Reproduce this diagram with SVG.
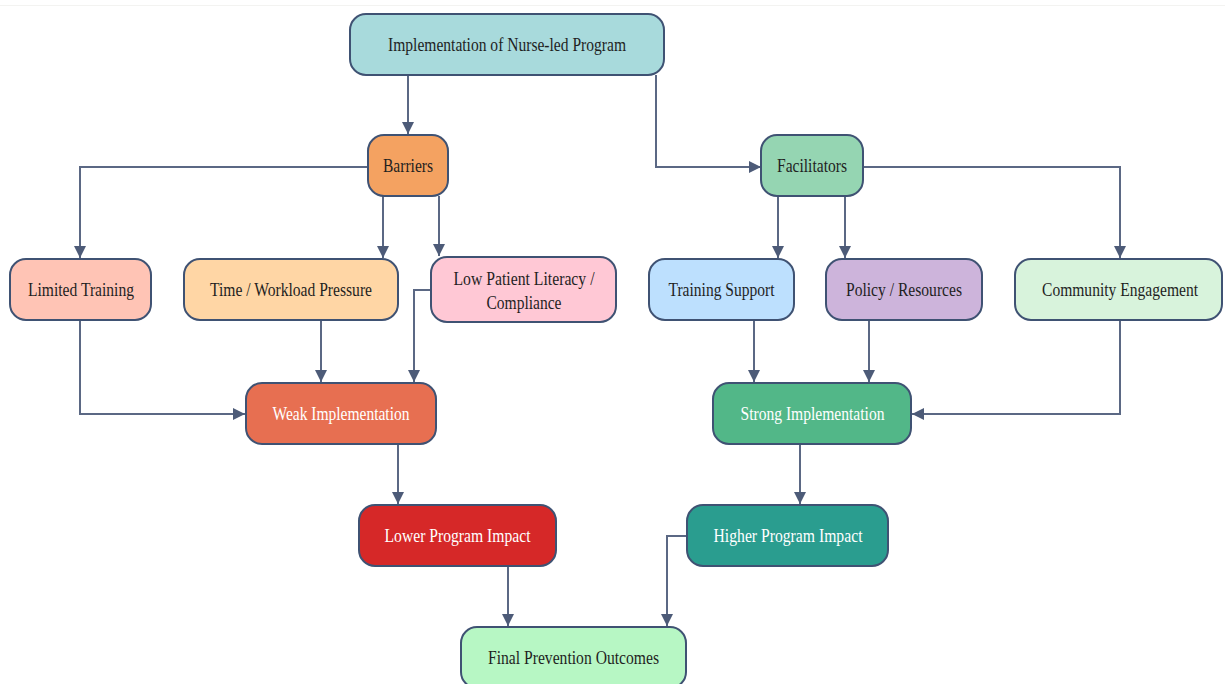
<svg xmlns="http://www.w3.org/2000/svg" width="1225" height="684" viewBox="0 0 1225 684">
<defs>
<marker id="arr" viewBox="0 0 10 10" refX="10" refY="5" markerWidth="12" markerHeight="12" markerUnits="userSpaceOnUse" orient="auto">
<path d="M0,0 L10,5 L0,10 z" fill="#4d5b78"/>
</marker>
<style>
.n{stroke:#3f5273;stroke-width:2}
.t{font-family:"Liberation Serif","Times New Roman",serif;font-size:18.5px;text-anchor:middle;fill:#1f1f1f}
.w{fill:#ffffff}
.e{fill:none;stroke:#5b6884;stroke-width:2;marker-end:url(#arr)}
</style>
</defs>
<rect x="0" y="0" width="1225" height="684" fill="#ffffff"/>
<line x1="0" y1="5.5" x2="1225" y2="5.5" stroke="#f3f3f1" stroke-width="1"/>
<g id="connectors">
<path class="e" d="M408,75 V134"/>
<path class="e" d="M656,75 V167 H761"/>
<path class="e" d="M368,167 H80 V258"/>
<path class="e" d="M383,196 V258"/>
<path class="e" d="M439,196 V256"/>
<path class="e" d="M778,196 V258"/>
<path class="e" d="M845,196 V258"/>
<path class="e" d="M863,167 H1120 V258"/>
<path class="e" d="M80,320 V414 H245"/>
<path class="e" d="M321,320 V382"/>
<path class="e" d="M431,290 H414 V382"/>
<path class="e" d="M754,320 V382"/>
<path class="e" d="M869,320 V382"/>
<path class="e" d="M1120,320 V414 H912"/>
<path class="e" d="M398,444 V504"/>
<path class="e" d="M800,444 V504"/>
<path class="e" d="M508,566 V626"/>
<path class="e" d="M687,536 H667 V626"/>
</g>
<g id="top">
<rect class="n" x="350" y="14" width="314" height="61" rx="16" fill="#a8dadc"/>
<text class="t" x="507" y="51" textLength="238" lengthAdjust="spacingAndGlyphs">Implementation of Nurse-led Program</text>
</g>
<g id="barriers">
<rect class="n" x="368" y="135" width="80" height="61" rx="16" fill="#f4a261"/>
<text class="t" x="408" y="172" textLength="50" lengthAdjust="spacingAndGlyphs">Barriers</text>
</g>
<g id="facilitators">
<rect class="n" x="761" y="135" width="102" height="61" rx="16" fill="#95d5b2"/>
<text class="t" x="812" y="172" textLength="70" lengthAdjust="spacingAndGlyphs">Facilitators</text>
</g>
<g id="limited">
<rect class="n" x="10" y="259" width="141" height="61" rx="16" fill="#ffc4b5"/>
<text class="t" x="81" y="296" textLength="106" lengthAdjust="spacingAndGlyphs">Limited Training</text>
</g>
<g id="time">
<rect class="n" x="184" y="259" width="214" height="61" rx="16" fill="#ffd6a5"/>
<text class="t" x="291" y="296" textLength="162" lengthAdjust="spacingAndGlyphs">Time / Workload Pressure</text>
</g>
<g id="literacy">
<rect class="n" x="431" y="257" width="185" height="65" rx="16" fill="#ffc8d5"/>
<text class="t" x="524" y="285" textLength="141" lengthAdjust="spacingAndGlyphs">Low Patient Literacy /</text>
<text class="t" x="524" y="309" textLength="75" lengthAdjust="spacingAndGlyphs">Compliance</text>
</g>
<g id="training">
<rect class="n" x="649" y="259" width="145" height="61" rx="16" fill="#bde0fe"/>
<text class="t" x="721.5" y="296" textLength="106" lengthAdjust="spacingAndGlyphs">Training Support</text>
</g>
<g id="policy">
<rect class="n" x="826" y="259" width="156" height="61" rx="16" fill="#cdb4db"/>
<text class="t" x="904" y="296" textLength="116" lengthAdjust="spacingAndGlyphs">Policy / Resources</text>
</g>
<g id="community">
<rect class="n" x="1015" y="259" width="207" height="61" rx="16" fill="#d8f3dc"/>
<text class="t" x="1120" y="296" textLength="156" lengthAdjust="spacingAndGlyphs">Community Engagement</text>
</g>
<g id="weak">
<rect class="n" x="246" y="383" width="190" height="61" rx="16" fill="#e76f51"/>
<text class="t w" x="341" y="420" textLength="137" lengthAdjust="spacingAndGlyphs">Weak Implementation</text>
</g>
<g id="strong">
<rect class="n" x="713" y="383" width="198" height="61" rx="16" fill="#52b788"/>
<text class="t w" x="812.5" y="420" textLength="144" lengthAdjust="spacingAndGlyphs">Strong Implementation</text>
</g>
<g id="lower">
<rect class="n" x="359" y="505" width="197" height="61" rx="16" fill="#d62828"/>
<text class="t w" x="457.5" y="542" textLength="146" lengthAdjust="spacingAndGlyphs">Lower Program Impact</text>
</g>
<g id="higher">
<rect class="n" x="687" y="505" width="201" height="61" rx="16" fill="#2a9d8f"/>
<text class="t w" x="788" y="542" textLength="149" lengthAdjust="spacingAndGlyphs">Higher Program Impact</text>
</g>
<g id="final">
<rect class="n" x="461" y="627" width="225" height="61" rx="16" fill="#b7f7c4"/>
<text class="t" x="573.5" y="664" textLength="171" lengthAdjust="spacingAndGlyphs">Final Prevention Outcomes</text>
</g>
</svg>
